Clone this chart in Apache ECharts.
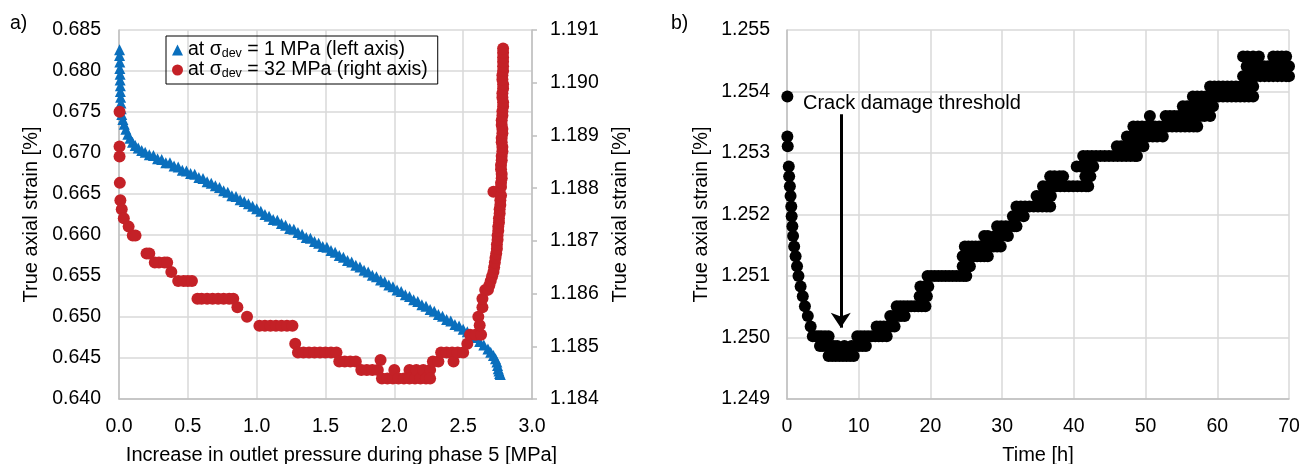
<!DOCTYPE html>
<html>
<head>
<meta charset="utf-8">
<script src="https://cdn.jsdelivr.net/npm/echarts/dist/echarts.min.js"></script>
<style>
  html, body { margin: 0; padding: 0; background: #fff; }
  #main { width: 1302px; height: 464px; }
</style>
</head>
<body>
<div id="main"></div>
<script>
  // a) outlet pressure increase [MPa] vs true axial strain [%]
  var blue1MPa = [
    [0.004,0.6826],[0.004,0.6819],[0.006,0.6811],[0.006,0.6803],[0.008,0.6796],[0.008,0.6789],
    [0.010,0.6782],[0.010,0.6775],[0.012,0.6768],[0.014,0.6761],[0.016,0.6754],[0.020,0.6747],
    [0.028,0.6741],[0.038,0.6735],[0.050,0.6729],[0.064,0.6723],[0.080,0.6718],[0.098,0.6713],
    [0.118,0.6709],[0.140,0.6706],[0.165,0.6703],[0.19,0.6701],[0.22,0.6698],[0.25,0.6697],
    [0.28,0.6693],[0.31,0.6692],[0.34,0.6688],[0.37,0.6688],[0.40,0.6684],[0.43,0.6683],
    [0.46,0.6679],[0.49,0.6678],[0.52,0.6675],[0.55,0.6674],[0.58,0.6670],[0.61,0.6669],
    [0.64,0.6665],[0.67,0.6663],[0.70,0.6660],[0.73,0.6658],[0.76,0.6654],[0.79,0.6652],
    [0.82,0.6648],[0.85,0.6647],[0.88,0.6643],[0.91,0.6641],[0.94,0.6638],[0.97,0.6635],
    [1.00,0.6632],[1.03,0.6629],[1.06,0.6625],[1.09,0.6623],[1.12,0.6619],[1.15,0.6618],
    [1.18,0.6614],[1.21,0.6612],[1.24,0.6608],[1.27,0.6607],[1.30,0.6603],[1.33,0.6601],
    [1.36,0.6597],[1.39,0.6596],[1.42,0.6592],[1.45,0.6590],[1.48,0.6586],[1.51,0.6585],
    [1.54,0.6581],[1.57,0.6579],[1.60,0.6575],[1.63,0.6573],[1.66,0.6569],[1.69,0.6567],
    [1.72,0.6563],[1.75,0.6561],[1.78,0.6557],[1.81,0.6555],[1.84,0.6551],[1.87,0.6549],
    [1.90,0.6545],[1.93,0.6543],[1.96,0.6539],[1.99,0.6537],[2.02,0.6533],[2.05,0.6531],
    [2.08,0.6527],[2.11,0.6525],[2.14,0.6521],[2.17,0.6519],[2.20,0.6515],[2.23,0.6513],
    [2.26,0.6509],[2.29,0.6507],[2.32,0.6503],[2.35,0.6501],[2.38,0.6497],[2.41,0.6495],
    [2.44,0.6491],[2.47,0.6489],[2.50,0.6485],[2.53,0.6482],[2.56,0.6478],[2.59,0.6475],
    [2.62,0.6470],[2.65,0.6466],[2.68,0.6461],[2.70,0.6457],[2.72,0.6453],[2.735,0.6449],
    [2.745,0.6445],[2.75,0.6441],[2.755,0.6437],[2.76,0.6434],[2.765,0.6431],[2.77,0.6430]
  ];
  var red32MPa = [
    [0.004,1.18945],[0.004,1.18879],[0.004,1.18860],[0.006,1.18810],[0.010,1.18777],[0.02,1.18760],
    [0.035,1.18743],[0.07,1.18727],[0.10,1.18710],[0.12,1.18710],[0.20,1.18676],[0.22,1.18676],
    [0.26,1.18659],[0.29,1.18659],[0.33,1.18659],[0.35,1.18659],[0.38,1.18641],[0.43,1.18624],
    [0.47,1.18624],[0.50,1.18624],[0.53,1.18624],[0.57,1.18590],[0.60,1.18590],[0.64,1.18590],
    [0.68,1.18590],[0.72,1.18590],[0.76,1.18590],[0.80,1.18590],[0.83,1.18590],[0.86,1.18574],
    [0.93,1.18556],[1.02,1.18539],[1.06,1.18539],[1.10,1.18539],[1.14,1.18539],[1.18,1.18539],
    [1.22,1.18539],[1.26,1.18539],[1.28,1.18505],[1.30,1.18488],[1.34,1.18488],[1.38,1.18488],
    [1.42,1.18488],[1.46,1.18488],[1.50,1.18488],[1.54,1.18488],[1.58,1.18488],[1.60,1.18471],
    [1.64,1.18471],[1.68,1.18471],[1.72,1.18471],[1.76,1.18455],[1.80,1.18455],[1.84,1.18455],
    [1.88,1.18455],[1.90,1.18474],[1.91,1.18439],[1.95,1.18439],[1.99,1.18439],[2.00,1.18455],
    [2.03,1.18439],[2.07,1.18439],[2.11,1.18455],[2.11,1.18439],[2.15,1.18439],[2.16,1.18455],
    [2.19,1.18439],[2.21,1.18455],[2.23,1.18439],[2.26,1.18455],[2.26,1.18439],[2.28,1.18471],
    [2.32,1.18471],[2.34,1.18488],[2.38,1.18488],[2.42,1.18488],[2.43,1.18471],[2.46,1.18488],
    [2.50,1.18488],[2.53,1.18505],[2.55,1.18522],[2.59,1.18522],[2.61,1.18556],[2.63,1.18522],
    [2.62,1.18540],[2.64,1.18574],[2.64,1.18590],[2.66,1.18607],[2.68,1.18607],[2.69,1.18616],
    [2.70,1.18624],[2.71,1.18633],[2.72,1.18641],[2.725,1.18650],[2.73,1.18659],[2.735,1.18668],
    [2.74,1.18676],[2.745,1.18685],[2.745,1.18693],[2.75,1.18702],[2.75,1.18710],[2.755,1.18719],
    [2.755,1.18727],[2.76,1.18735],[2.76,1.18743],[2.765,1.18752],[2.765,1.18760],[2.77,1.18768],
    [2.77,1.18777],[2.72,1.18793],[2.775,1.18786],[2.775,1.18802],[2.775,1.18810],[2.78,1.18819],
    [2.78,1.18827],[2.775,1.18836],[2.775,1.18844],[2.78,1.18853],[2.78,1.18861],[2.785,1.18870],
    [2.785,1.18878],[2.78,1.18887],[2.78,1.18895],[2.785,1.18904],[2.785,1.18912],[2.78,1.18920],
    [2.78,1.18929],[2.785,1.18938],[2.785,1.18946],[2.79,1.18955],[2.79,1.18963],[2.785,1.18972],
    [2.785,1.18980],[2.79,1.18989],[2.79,1.18997],[2.785,1.19006],[2.785,1.19014],[2.79,1.19022],
    [2.79,1.19031],[2.79,1.19040],[2.79,1.19048],[2.79,1.19057],[2.79,1.19065]
  ];

  // b) time [h] vs true axial strain [%]
  var black = [
    [0.05,1.25392],[0.05,1.25327],[0.1,1.25311],[0.25,1.25278],[0.3,1.25262],[0.4,1.25246],
    [0.5,1.25230],[0.6,1.25213],[0.65,1.25197],[0.75,1.25181],[0.85,1.25165],[1.0,1.25148],
    [1.2,1.25132],[1.4,1.25116],[1.6,1.25100],[1.9,1.25083],[2.2,1.25067],[2.5,1.25051],
    [2.9,1.25035],[3.3,1.25018],[3.6,1.25002],[4.0,1.25002],[4.4,1.25002],[4.8,1.25002],
    [5.3,1.25002],[5.8,1.25002],[4.6,1.24986],[5.0,1.24986],[5.5,1.24986],[6.0,1.24986],
    [6.5,1.24986],[7.0,1.24986],[8.0,1.24986],[9.0,1.24986],[9.5,1.24986],[10.0,1.24986],
    [10.5,1.24986],[11.0,1.24986],[5.8,1.24970],[6.3,1.24970],[6.8,1.24970],[7.3,1.24970],
    [7.8,1.24970],[8.3,1.24970],[8.8,1.24970],[9.3,1.24970],[9.8,1.25002],[10.3,1.25002],
    [10.8,1.25002],[11.3,1.25002],[11.8,1.25002],[12.3,1.25002],[12.8,1.25002],[13.3,1.25002],
    [13.9,1.25002],[12.5,1.25018],[13.0,1.25018],[13.5,1.25018],[14.0,1.25018],[14.5,1.25018],
    [15.0,1.25018],[14.4,1.25035],[14.9,1.25035],[15.4,1.25035],[15.9,1.25035],[16.4,1.25035],
    [15.3,1.25051],[15.8,1.25051],[16.3,1.25051],[16.8,1.25051],[17.3,1.25051],[17.8,1.25051],
    [18.3,1.25051],[18.8,1.25051],[19.3,1.25051],[18.5,1.25067],[19.0,1.25067],[19.5,1.25067],
    [18.6,1.25083],[19.2,1.25083],[19.7,1.25083],[19.6,1.25100],[20.1,1.25100],[20.6,1.25100],
    [21.1,1.25100],[21.6,1.25100],[22.1,1.25100],[22.6,1.25100],[23.1,1.25100],[23.6,1.25100],
    [24.1,1.25100],[24.6,1.25100],[25.0,1.25100],[24.5,1.25116],[25.0,1.25116],[25.5,1.25116],
    [24.5,1.25132],[25.0,1.25132],[25.5,1.25132],[26.0,1.25132],[26.5,1.25132],[27.0,1.25132],
    [27.5,1.25132],[28.0,1.25132],[24.8,1.25148],[25.3,1.25148],[25.8,1.25148],[26.3,1.25148],
    [26.8,1.25148],[27.3,1.25148],[27.8,1.25148],[28.3,1.25148],[28.8,1.25148],[29.3,1.25148],
    [29.8,1.25148],[27.5,1.25165],[28.0,1.25165],[29.0,1.25165],[30.0,1.25165],[30.8,1.25165],
    [29.3,1.25181],[29.9,1.25181],[30.5,1.25181],[31.1,1.25181],[31.7,1.25181],[32.0,1.25181],
    [31.5,1.25197],[32.2,1.25197],[33.0,1.25197],[32.0,1.25213],[32.6,1.25213],[33.2,1.25213],
    [33.8,1.25213],[34.4,1.25213],[35.0,1.25213],[35.6,1.25213],[36.2,1.25213],[36.7,1.25213],
    [34.8,1.25230],[35.4,1.25230],[36.0,1.25230],[36.8,1.25230],[35.7,1.25246],[36.3,1.25246],
    [36.9,1.25246],[37.5,1.25246],[38.1,1.25246],[38.7,1.25246],[39.3,1.25246],[39.9,1.25246],
    [40.5,1.25246],[41.1,1.25246],[41.7,1.25246],[42.0,1.25246],[36.7,1.25262],[37.3,1.25262],
    [38.0,1.25262],[38.5,1.25262],[41.6,1.25262],[42.3,1.25262],[40.4,1.25278],[41.0,1.25278],
    [41.6,1.25278],[42.2,1.25278],[42.7,1.25278],[41.3,1.25295],[41.9,1.25295],[42.5,1.25295],
    [43.1,1.25295],[43.7,1.25295],[44.3,1.25295],[44.9,1.25295],[45.5,1.25295],[46.1,1.25295],
    [46.7,1.25295],[47.3,1.25295],[47.9,1.25295],[48.5,1.25295],[48.8,1.25295],[46.0,1.25311],
    [46.6,1.25311],[47.2,1.25311],[47.8,1.25311],[48.4,1.25311],[49.0,1.25311],[49.7,1.25311],
    [47.4,1.25327],[48.0,1.25327],[48.6,1.25327],[49.2,1.25327],[49.8,1.25327],[50.4,1.25327],
    [51.0,1.25327],[51.6,1.25327],[52.4,1.25327],[48.3,1.25343],[48.9,1.25343],[49.5,1.25343],
    [50.1,1.25343],[50.7,1.25343],[51.3,1.25343],[51.9,1.25343],[52.5,1.25343],[53.1,1.25343],
    [53.7,1.25343],[54.3,1.25343],[54.9,1.25343],[55.5,1.25343],[56.1,1.25343],[56.7,1.25343],
    [57.2,1.25343],[50.6,1.25360],[52.8,1.25360],[53.4,1.25360],[54.0,1.25360],[54.6,1.25360],
    [55.2,1.25360],[55.8,1.25360],[56.4,1.25360],[57.0,1.25360],[57.6,1.25360],[58.2,1.25360],
    [59.0,1.25360],[55.2,1.25376],[55.8,1.25376],[56.4,1.25376],[57.0,1.25376],[57.6,1.25376],
    [58.2,1.25376],[58.8,1.25376],[59.4,1.25376],[56.6,1.25392],[57.2,1.25392],[57.8,1.25392],
    [58.4,1.25392],[59.0,1.25392],[59.6,1.25392],[60.2,1.25392],[60.8,1.25392],[61.4,1.25392],
    [62.0,1.25392],[62.6,1.25392],[63.2,1.25392],[63.8,1.25392],[64.4,1.25392],[65.0,1.25392],
    [59.0,1.25408],[59.6,1.25408],[60.2,1.25408],[60.8,1.25408],[61.4,1.25408],[62.0,1.25408],
    [62.6,1.25408],[63.2,1.25408],[63.8,1.25408],[64.4,1.25408],[65.0,1.25408],[63.6,1.25425],
    [64.2,1.25425],[64.8,1.25425],[65.4,1.25425],[66.0,1.25425],[66.6,1.25425],[67.2,1.25425],
    [67.8,1.25425],[68.4,1.25425],[69.0,1.25425],[69.6,1.25425],[70.0,1.25425],[64.1,1.25441],
    [64.7,1.25441],[65.3,1.25441],[65.9,1.25441],[66.5,1.25441],[67.1,1.25441],[67.7,1.25441],
    [68.3,1.25441],[68.9,1.25441],[69.5,1.25441],[70.0,1.25441],[63.6,1.25457],[64.2,1.25457],
    [65.0,1.25457],[65.8,1.25457],[67.8,1.25457],[68.4,1.25457],[69.0,1.25457],[69.6,1.25457]
  ];

  // crack damage threshold arrow (time, strain from / to) and label anchor
  var crackArrow = [[7.5, 1.25363], [7.5, 1.25016]];
  var crackLabel = [2.23, 1.25381];

  var names = ['at \u03c3dev = 1 MPa (left axis)', 'at \u03c3dev = 32 MPa (right axis)'];
  var FONT = 'Liberation Sans, Arial, sans-serif';
  var gridColor = '#d9d9d9';
  var axisColor = '#bfbfbf';

  var chart = echarts.init(document.getElementById('main'));

  function valueAxis(extra) {
    var base = {
      type: 'value',
      axisLine: { show: true, lineStyle: { color: axisColor, width: 1.5 } },
      axisTick: { show: false },
      splitLine: { show: true, lineStyle: { color: gridColor, width: 1.5 } },
      nameLocation: 'middle',
      nameTextStyle: { color: '#000', fontSize: 20, fontFamily: FONT }
    };
    return Object.assign(base, extra);
  }

  function tickLabel(margin, fmt) {
    return { color: '#000', fontSize: 19.5, fontFamily: FONT, margin: margin, formatter: fmt };
  }
  function fixed(n) { return function (v) { return v.toFixed(n); }; }

  chart.setOption({
    animation: false,
    textStyle: { fontFamily: FONT },
    graphic: [
      { type: 'text', left: 10, top: 14, style: { text: 'a)', fontSize: 19.5, fontFamily: FONT, fill: '#000' } },
      { type: 'text', left: 671, top: 14, style: { text: 'b)', fontSize: 19.5, fontFamily: FONT, fill: '#000' } }
    ],
    grid: [
      { left: 119, right: 770, top: 30, bottom: 65, containLabel: false, outerBoundsMode: 'none' },
      { left: 787, right: 13, top: 30, bottom: 65, containLabel: false, outerBoundsMode: 'none' }
    ],
    legend: {
      left: 166, top: 36,
      orient: 'vertical',
      itemGap: 0,
      itemWidth: 11, itemHeight: 11,
      padding: [4, 10, 4, 6],
      borderColor: '#000', borderWidth: 1,
      data: [
        { name: names[0], icon: 'triangle' },
        { name: names[1], icon: 'circle' }
      ],
      formatter: function (n) {
        var rest = n.split('dev')[1];
        return '{n|at \u03c3}{s|dev}{n|' + rest + '}';
      },
      textStyle: {
        color: '#000',
        fontFamily: FONT,
        rich: {
          n: { fontSize: 19.5, fontFamily: FONT, color: '#000', lineHeight: 20, verticalAlign: 'middle' },
          s: { fontSize: 12.5, fontFamily: FONT, color: '#000', lineHeight: 20, verticalAlign: 'bottom' }
        }
      }
    },
    xAxis: [
      valueAxis({
        gridIndex: 0, min: 0, max: 3, interval: 0.5,
        name: 'Increase in outlet pressure during phase 5 [MPa]', nameGap: 46,
        nameTextStyle: { color: '#000', fontSize: 20, fontFamily: FONT, padding: [0, 0, 0, 32] },
        axisLabel: tickLabel(18, fixed(1))
      }),
      valueAxis({
        gridIndex: 1, min: 0, max: 70, interval: 10,
        name: 'Time [h]', nameGap: 46,
        axisLabel: tickLabel(18)
      })
    ],
    yAxis: [
      valueAxis({
        gridIndex: 0, min: 0.64, max: 0.685, interval: 0.005,
        name: 'True axial strain [%]', nameGap: 78,
        axisLabel: tickLabel(18, fixed(3))
      }),
      valueAxis({
        gridIndex: 0, position: 'right', min: 1.184, max: 1.191, interval: 0.001,
        name: 'True axial strain [%]', nameGap: 78,
        splitLine: { show: false },
        axisTick: { show: true, length: 5, lineStyle: { color: axisColor, width: 1.5 } },
        axisLabel: tickLabel(18, fixed(3))
      }),
      valueAxis({
        gridIndex: 1, min: 1.249, max: 1.255, interval: 0.001,
        name: 'True axial strain [%]', nameGap: 76,
        axisLabel: tickLabel(17, fixed(3))
      })
    ],
    series: [
      {
        name: names[0], type: 'scatter', xAxisIndex: 0, yAxisIndex: 0,
        symbol: 'triangle', symbolSize: 11,
        itemStyle: { color: '#0a6fbd', opacity: 1 },
        data: blue1MPa
      },
      {
        name: names[1], type: 'scatter', xAxisIndex: 0, yAxisIndex: 1,
        symbol: 'circle', symbolSize: 12,
        itemStyle: { color: '#c42127', opacity: 1 },
        data: red32MPa
      },
      {
        name: 'b', type: 'scatter', xAxisIndex: 1, yAxisIndex: 2,
        symbol: 'circle', symbolSize: 12,
        itemStyle: { color: '#000', opacity: 1 },
        data: black,
        markLine: {
          silent: true,
          symbol: ['none', 'arrow'], symbolSize: 15,
          lineStyle: { color: '#000', width: 3, type: 'solid' },
          label: { show: false },
          data: [[{ coord: crackArrow[0] }, { coord: crackArrow[1] }]]
        },
        markPoint: {
          silent: true,
          symbol: 'circle', symbolSize: 0,
          label: { show: true, position: 'right', distance: 0, color: '#000',
            fontSize: 20, fontFamily: FONT, formatter: 'Crack damage threshold' },
          data: [{ coord: crackLabel }]
        }
      }
    ]
  });
</script>
</body>
</html>
